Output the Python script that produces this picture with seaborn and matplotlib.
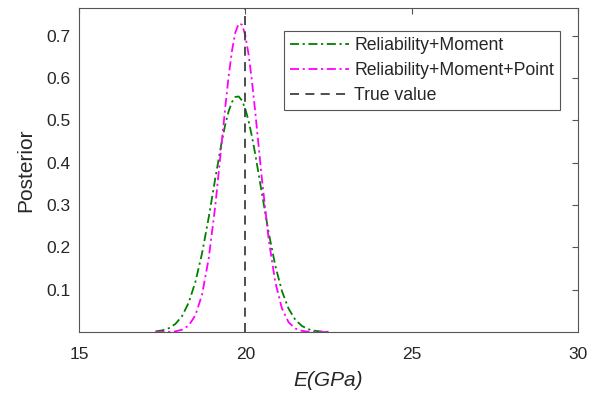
import numpy as np
import pandas as pd
import matplotlib
matplotlib.use("Agg")
import matplotlib.pyplot as plt
import seaborn as sns

# Data
e_gpa = [17.3, 17.5, 17.7, 17.9, 18.1, 18.3, 18.5, 18.7, 18.9, 19.1, 19.3, 19.4, 19.5, 19.6,
         19.7, 19.8, 19.9, 20.0, 20.1, 20.2, 20.3, 20.5, 20.7, 20.9, 21.1, 21.3, 21.5, 21.7,
         21.9, 22.1, 22.3, 22.5]
rel_moment = [0.0015, 0.0038, 0.0089, 0.0191, 0.0379, 0.0697, 0.1185, 0.1862, 0.2708,
              0.3642, 0.4531, 0.4909, 0.5215, 0.5432, 0.5550, 0.5561, 0.5465, 0.5266,
              0.4976, 0.4611, 0.4191, 0.3265, 0.2353, 0.1568, 0.0966, 0.0551, 0.0291,
              0.0142, 0.0064, 0.0027, 0.0010, 0.0004]
rel_moment_point = [0.0000, 0.0001, 0.0004, 0.0016, 0.0054, 0.0155, 0.0396, 0.0885, 0.1740,
                    0.3001, 0.4547, 0.5331, 0.6051, 0.6648, 0.7072, 0.7281, 0.7258, 0.7003,
                    0.6542, 0.5915, 0.5178, 0.3600, 0.2197, 0.1178, 0.0555, 0.0229, 0.0083,
                    0.0027, 0.0007, 0.0002, 0.0000, 0.0000]
true_value = 20
series_names = ["Reliability+Moment", "Reliability+Moment+Point"]
x_ticks = [15, 20, 25, 30]
y_ticks = [0.1, 0.2, 0.3, 0.4, 0.5, 0.6, 0.7]

sns.set_style("white")
plt.rcParams['font.family'] = ['Liberation Sans', 'DejaVu Sans']

df = pd.DataFrame({
    "E": e_gpa * 2,
    "Posterior": rel_moment + rel_moment_point,
    "Series": [series_names[0]] * len(e_gpa) + [series_names[1]] * len(e_gpa),
})

text_c = '#262626'
spine_c = '#555555'

fig = plt.figure(figsize=(6.02, 3.98), dpi=100)
ax = fig.add_axes([79 / 602, 1 - 332 / 398, (578 - 79) / 602, (332 - 8) / 398])

sns.lineplot(data=df, x="E", y="Posterior", hue="Series",
             palette={series_names[0]: '#008000', series_names[1]: '#ff00ff'},
             ax=ax, linewidth=1.3, legend=False)
for ln in ax.get_lines():
    ln.set_linestyle((0, (5, 2, 1.2, 2)))
green_line, pink_line = ax.get_lines()[0], ax.get_lines()[1]
vline = ax.axvline(true_value, color='#404040', linestyle=(0, (5, 3.5)), linewidth=1.3)

ax.set_xlim(15, 30)
ax.set_ylim(0, 0.765)
ax.set_xticks(x_ticks)
ax.set_xticklabels([str(t) for t in x_ticks])
ax.set_yticks(y_ticks)
ax.set_yticklabels([f"{t:.1f}" for t in y_ticks])
ax.tick_params(direction='in', length=4, width=0.8, colors=spine_c, labelcolor=text_c,
               labelsize=12.5, top=True, right=True, pad=6)
ax.tick_params(axis='x', pad=11)
for s in ax.spines.values():
    s.set_visible(True)
    s.set_color(spine_c)
    s.set_linewidth(0.8)

ax.set_xlabel("E(GPa)", fontsize=15, style='italic', color=text_c, labelpad=6)
ax.set_ylabel("Posterior", fontsize=15, color=text_c, labelpad=8)

leg = ax.legend([green_line, pink_line, vline],
                [series_names[0], series_names[1], "True value"],
                loc='upper left', bbox_to_anchor=((284 - 79) / 499, (332 - 31) / 324),
                borderaxespad=0, fontsize=12.7, handlelength=3.35, handletextpad=0.28,
                labelspacing=0.46, borderpad=0.34, fancybox=False, framealpha=1)
leg.get_frame().set_edgecolor(spine_c)
leg.get_frame().set_linewidth(0.8)
for t in leg.get_texts():
    t.set_color(text_c)

fig.savefig("out.png", dpi=100)
